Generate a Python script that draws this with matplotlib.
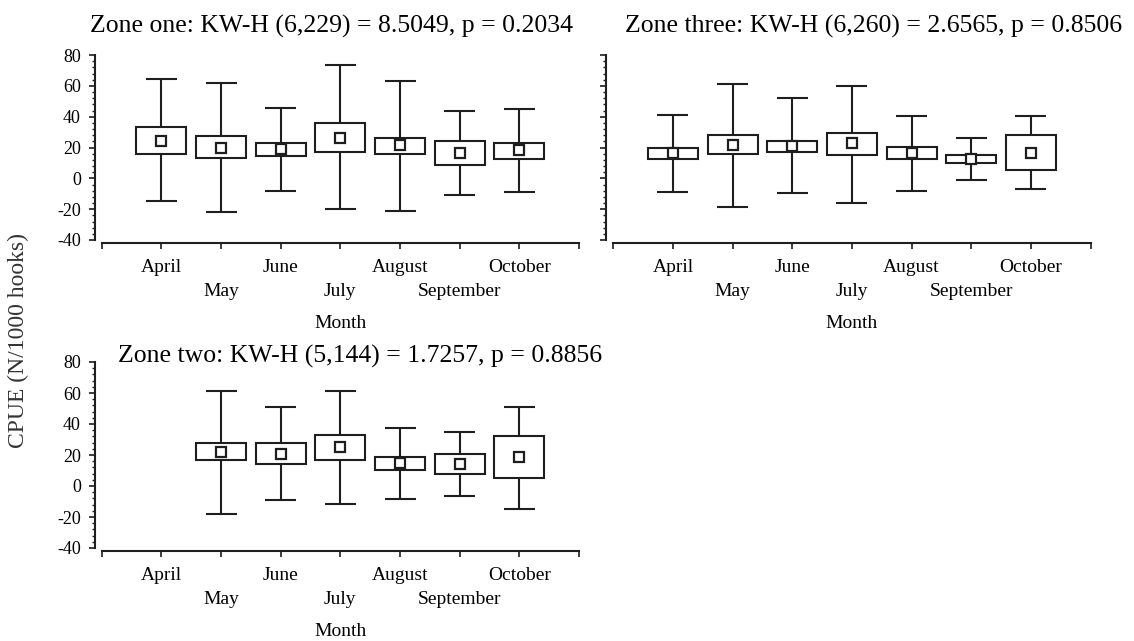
import numpy as np
import matplotlib
matplotlib.use("Agg")
import matplotlib.pyplot as plt
from matplotlib.ticker import MultipleLocator

plt.rcParams['font.family'] = ['Liberation Serif', 'DejaVu Serif']
plt.rcParams['axes.unicode_minus'] = False

# -------------------------------------------------------------------------
# Data: mean square, box (low, high), whisker (low, high)
# -------------------------------------------------------------------------
months = ['April', 'May', 'June', 'July', 'August', 'September', 'October']

zone_one_mean = [24.5, 19.8, 18.9, 26.4, 21.5, 16.2, 18.1]
zone_one_box = [(15.9, 33.3), (13.4, 27.7), (14.5, 23.2), (16.8, 35.8),
                (15.9, 26.2), (8.9, 24.3), (12.5, 23.2)]
zone_one_whisker = [(-15.0, 64.4), (-22.1, 62.1), (-8.0, 45.6), (-19.7, 73.6),
                    (-21.2, 63.3), (-10.8, 43.9), (-8.8, 44.8)]

zone_three_mean = [16.4, 21.7, 20.9, 22.6, 16.4, 12.5, 16.4]
zone_three_box = [(12.5, 20.0), (15.9, 27.9), (16.8, 24.3), (15.3, 29.4),
                  (12.5, 20.6), (9.8, 15.3), (5.3, 27.9)]
zone_three_whisker = [(-8.8, 41.1), (-18.6, 61.0), (-9.7, 51.8), (-15.9, 59.9),
                      (-8.0, 40.3), (-0.9, 26.2), (-7.1, 40.3)]

# no April sample in zone two
zone_two_mean = [None, 22.1, 20.4, 25.3, 15.1, 14.2, 18.7]
zone_two_box = [None, (16.8, 27.7), (14.0, 27.7), (16.8, 33.0),
                (10.6, 18.7), (7.9, 20.4), (5.3, 32.1)]
zone_two_whisker = [None, (-18.0, 61.6), (-9.3, 51.0), (-11.8, 61.6),
                    (-8.2, 37.5), (-6.3, 35.0), (-14.6, 51.0)]

titles = {
    'one': 'Zone one: KW-H (6,229) = 8.5049, p = 0.2034',
    'three': 'Zone three: KW-H (6,260) = 2.6565, p = 0.8506',
    'two': 'Zone two: KW-H (5,144) = 1.7257, p = 0.8856',
}

LINE = '#1e1e1e'
W, H = 1134, 641


def draw_panel(ax, means, boxes, whiskers, show_ylabels=True):
    for i, (m, b, w) in enumerate(zip(means, boxes, whiskers)):
        if m is None:
            continue
        x = i + 1
        ax.vlines(x, w[0], w[1], color=LINE, lw=1.5, zorder=1)
        ax.hlines([w[0], w[1]], x - 0.26, x + 0.26, color=LINE, lw=1.5, zorder=1)
        ax.bar(x, b[1] - b[0], bottom=b[0], width=0.84, facecolor='white',
               edgecolor=LINE, linewidth=1.5, zorder=2)
        ax.plot(x, m, marker='s', ms=7.5, mfc='white', mec=LINE, mew=1.6,
                zorder=3, ls='none')

    ax.set_xlim(0, 8)
    ax.set_ylim(-40, 80)
    # staggered month labels: April, June, ... on the first row (major ticks),
    # May, July, September on the second row (minor ticks with a bigger pad)
    ax.set_xticks([0, 1, 3, 5, 7, 8])
    ax.set_xticklabels([''] + months[0::2] + [''])
    ax.set_xticks([2, 4, 6], minor=True)
    ax.set_xticklabels(months[1::2], minor=True)
    ax.yaxis.set_major_locator(MultipleLocator(20))
    ax.yaxis.set_minor_locator(MultipleLocator(4))
    ax.tick_params(axis='y', which='major', length=4, width=1.2, color=LINE,
                   labelsize=13, pad=6, labelleft=show_ylabels)
    ax.tick_params(axis='y', which='minor', length=2, width=1.0, color=LINE)
    ax.tick_params(axis='x', which='major', length=4, width=1.2, color=LINE,
                   labelsize=14, pad=7.5)
    ax.tick_params(axis='x', which='minor', length=4, width=1.2, color=LINE,
                   labelsize=14, pad=25)
    for s in ('top', 'right'):
        ax.spines[s].set_visible(False)
    ax.spines['left'].set_position(('outward', 5))
    ax.spines['bottom'].set_position(('outward', 2))
    for s in ('left', 'bottom'):
        ax.spines[s].set_linewidth(1.5)
        ax.spines[s].set_color(LINE)
    ax.set_xlabel('Month', fontsize=14, labelpad=11)
    ax.patch.set_alpha(0)


fig = plt.figure(figsize=(W / 100, H / 100), dpi=100)

ax1 = fig.add_axes([101.7 / W, 1 - 240 / H, 477.3 / W, 185 / H])
draw_panel(ax1, zone_one_mean, zone_one_box, zone_one_whisker)

ax3 = fig.add_axes([613.3 / W, 1 - 240 / H, 477.3 / W, 185 / H])
draw_panel(ax3, zone_three_mean, zone_three_box, zone_three_whisker, show_ylabels=False)

ax2 = fig.add_axes([101.7 / W, 1 - 548 / H, 477.3 / W, 186 / H])
draw_panel(ax2, zone_two_mean, zone_two_box, zone_two_whisker)

fig.text(332 / W, 1 - 33 / H, titles['one'], fontsize=18.5, ha='center', va='baseline')
fig.text(874 / W, 1 - 33 / H, titles['three'], fontsize=18.5, ha='center', va='baseline')
fig.text(360 / W, 1 - 363 / H, titles['two'], fontsize=18.5, ha='center', va='baseline')

fig.text(18 / W, 1 - 340 / H, 'CPUE (N/1000 hooks)', fontsize=17, rotation=90,
         ha='center', va='center', color='#333333')

fig.savefig('out.png', dpi=100)
